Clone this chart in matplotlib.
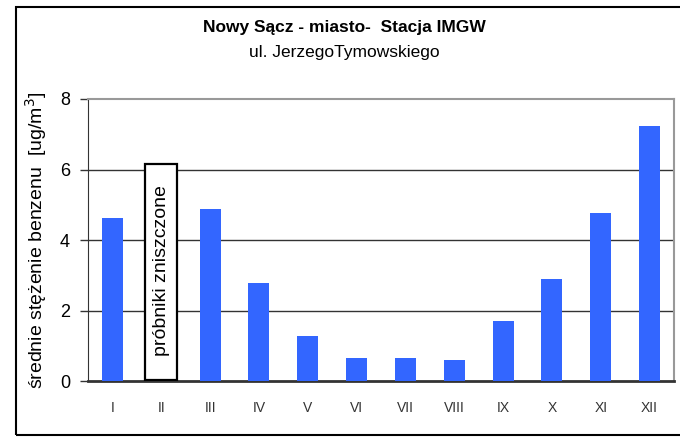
import matplotlib.pyplot as plt
from matplotlib.patches import Rectangle

plt.rcParams['font.family'] = ['Liberation Sans', 'DejaVu Sans']

months = ["I", "II", "III", "IV", "V", "VI", "VII", "VIII", "IX", "X", "XI", "XII"]
# II: samples destroyed -> no value
benzene = [4.63, None, 4.88, 2.78, 1.28, 0.65, 0.65, 0.60, 1.70, 2.89, 4.77, 7.23]
missing_box_height = 6.15
missing_text = "próbniki zniszczone"

fig = plt.figure(figsize=(6.8, 4.38), dpi=100)
ax = fig.add_axes([0.1294, 0.130, 0.8618, 0.644])

xs = [i for i, v in enumerate(benzene) if v is not None]
vals = [v for v in benzene if v is not None]
ax.bar(xs, vals, width=0.43, color='#3366FF', zorder=3)

# box for the missing month
mi = benzene.index(None)
ax.add_patch(Rectangle((mi - 0.33, 0.02), 0.66, missing_box_height - 0.02,
                       facecolor='white', edgecolor='black', linewidth=1.6, zorder=4))
ax.text(mi, missing_box_height / 2 + 0.05, missing_text, rotation=90, ha='center', va='center',
        fontsize=14, zorder=5)

ax.set_xlim(-0.5, len(months) - 0.5)
ax.set_ylim(0, 8)
ax.set_yticks([0, 2, 4, 6, 8])
ax.set_xticks(range(len(months)))
ax.set_xticklabels(months, fontsize=10, color='#333333')
ax.tick_params(axis='x', length=0, pad=14)
ax.tick_params(axis='y', length=6, width=1, color='#333333', labelsize=13, pad=7)

for y in [2, 4, 6]:
    ax.axhline(y, color='#333333', linewidth=1, zorder=1)

ax.spines['top'].set_color('#999999')
ax.spines['top'].set_linewidth(1.5)
ax.spines['right'].set_color('#999999')
ax.spines['right'].set_linewidth(1.5)
ax.spines['left'].set_color('#333333')
ax.spines['bottom'].set_color('#333333')
ax.spines['bottom'].set_linewidth(2)

ax.set_ylabel("średnie stężenie benzenu  [ug/m$^3$]", fontsize=14, labelpad=8)

fig.text(0.507, 0.938, "Nowy Sącz - miasto-  Stacja IMGW", ha='center', va='center',
         fontsize=12.5, fontweight='bold')
fig.text(0.507, 0.881, "ul. JerzegoTymowskiego", ha='center', va='center', fontsize=12.5)

# outer chart frame
fig.patches.append(Rectangle((16 / 680, 3 / 438), 1.0, 428 / 438, transform=fig.transFigure,
                             facecolor='none', edgecolor='black', linewidth=1.5))

fig.savefig('out.png', dpi=100)
